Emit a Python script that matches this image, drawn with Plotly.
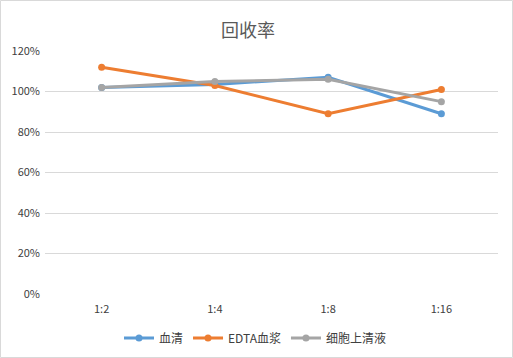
import plotly.graph_objects as go

categories = ["1:2", "1:4", "1:8", "1:16"]
serum = [1.02, 1.035, 1.07, 0.89]
edta_plasma = [1.12, 1.03, 0.89, 1.01]
cell_supernatant = [1.02, 1.05, 1.06, 0.95]
series_names = ["血清", "EDTA血浆", "细胞上清液"]
colors = ["#5B9BD5", "#ED7D31", "#A5A5A5"]
tick_vals = [0, 0.2, 0.4, 0.6, 0.8, 1.0, 1.2]
tick_text = ["0%", "20%", "40%", "60%", "80%", "100%", "120%"]

W, H = 513, 358
ml, mr, mt, mb = 45, 15, 51, 64
pw, ph = W - ml - mr, H - mt - mb

fig = go.Figure()
for name, vals, c in zip(series_names, [serum, edta_plasma, cell_supernatant], colors):
    fig.add_trace(go.Scatter(
        x=categories, y=vals, name=name, mode="lines+markers",
        line=dict(color=c, width=3), marker=dict(color=c, size=7),
    ))

font_fam = "'Noto Sans CJK SC', 'Noto Sans', sans-serif"
txt = "#404040"
fig.update_layout(
    width=W, height=H,
    margin=dict(l=ml, r=mr, t=mt, b=mb, autoexpand=False),
    paper_bgcolor="white", plot_bgcolor="white",
    font=dict(family=font_fam, size=11, color=txt),
    title=dict(text="回收率", x=248 / W, xanchor="center", y=1 - 31 / H, yanchor="middle",
               font=dict(family=font_fam, size=18, color="#595959")),
    xaxis=dict(type="category", range=[-0.5, 3.5], showgrid=False, showline=False,
               zeroline=False, ticks="", tickfont=dict(size=11, color=txt), automargin=False,
               ticklabelstandoff=7),
    yaxis=dict(range=[0, 1.2], tickvals=tick_vals, ticktext=tick_text, showgrid=True,
               gridcolor="#D9D9D9", gridwidth=1, zeroline=False, showline=False,
               tickfont=dict(size=11, color=txt), ticklabelstandoff=4, automargin=False),
    legend=dict(orientation="h", x=(255 - ml) / pw, xanchor="center", y=-(338 - (mt + ph)) / ph,
                yanchor="middle", font=dict(family=font_fam, size=12, color=txt),
                itemwidth=30, tracegroupgap=0),
    showlegend=True,
)
fig.add_shape(type="rect", xref="paper", yref="paper",
              x0=(0.5 - ml) / pw, x1=(W - 0.5 - ml) / pw,
              y0=(mt + ph - (H - 0.5)) / ph, y1=(mt + ph - 0.5) / ph,
              line=dict(color="#D9D9D9", width=1), layer="below")
fig.write_html("out.html", config={"displayModeBar": False},
               post_script="document.body.style.margin='0';document.body.style.overflow='hidden';")
